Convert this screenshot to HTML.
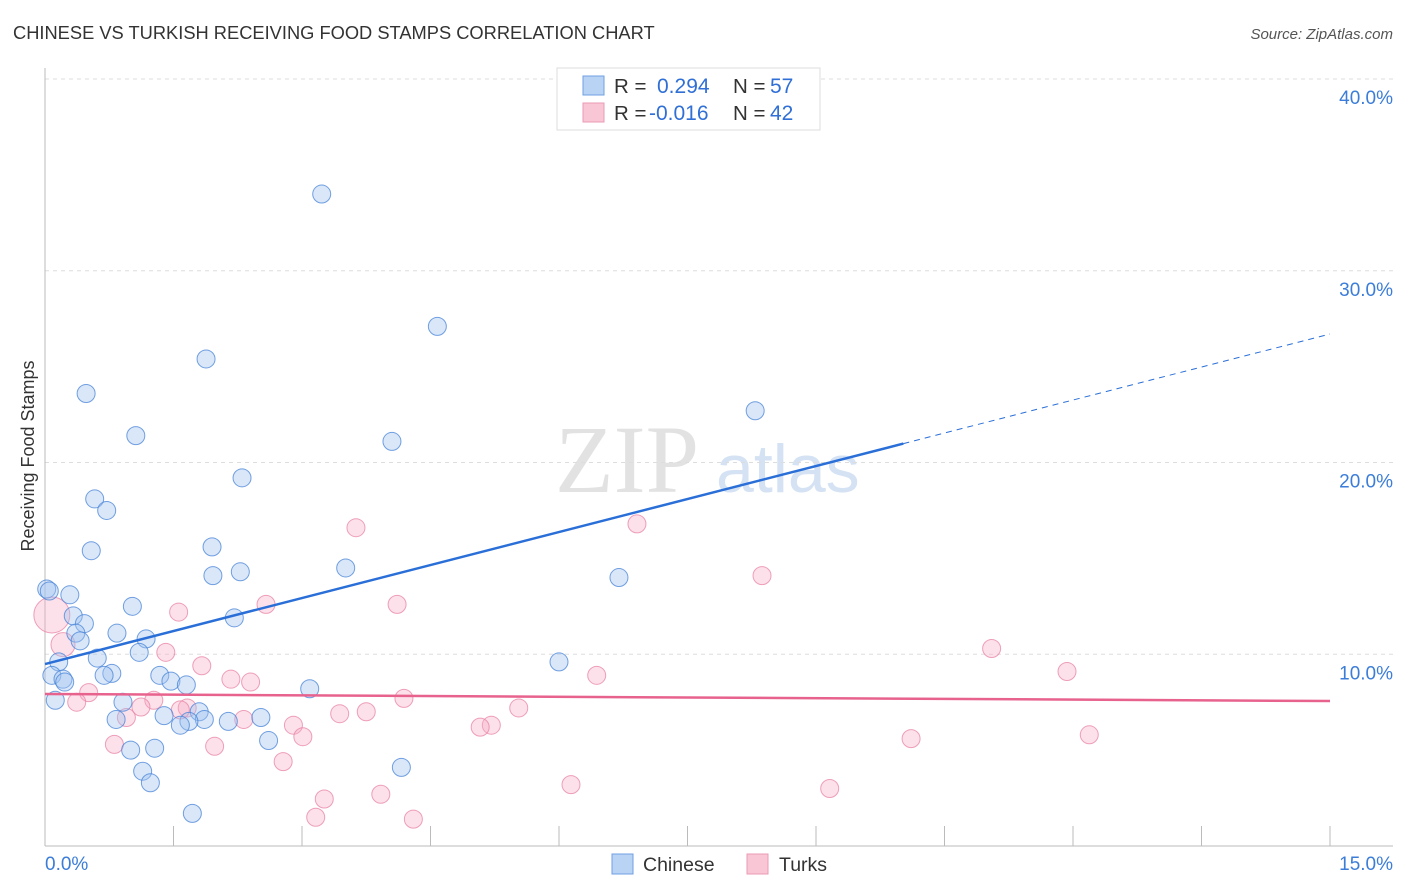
<!DOCTYPE html>
<html><head><meta charset="utf-8"><style>
body{margin:0;background:#fff;font-family:"Liberation Sans",sans-serif;}
svg{display:block}
</style></head><body>
<svg id="chart" width="1406" height="892">
<text x="13" y="39" font-size="18.3" fill="#333">CHINESE VS TURKISH RECEIVING FOOD STAMPS CORRELATION CHART</text>
<text x="1393" y="39" font-size="15" fill="#555" font-style="italic" text-anchor="end">Source: ZipAtlas.com</text>
<text x="555" y="492" font-size="96" fill="#e2e2e2" font-family="Liberation Serif,serif">ZIP</text>
<text x="716" y="492" font-size="68" fill="#d4e2f4">atlas</text>
<text transform="translate(34,456) rotate(-90)" font-size="18" fill="#333" text-anchor="middle">Receiving Food Stamps</text>
<g id="grid"></g><g id="pts"></g><g id="lines"></g>
<g>
<rect x="557" y="68" width="263" height="62" fill="#fff" stroke="#ddd"/>
<rect x="583" y="76" width="21" height="19" fill="#b9d3f5" stroke="#6f9fe0"/>
<rect x="583" y="103" width="21" height="19" fill="#f9c6d5" stroke="#eb9ab5"/>
<text x="614" y="93" font-size="20.5" fill="#333">R =</text><text x="657" y="93" font-size="21" fill="#2f6fd6">0.294</text>
<text x="733" y="93" font-size="20.5" fill="#333">N =</text><text x="770" y="93" font-size="21" fill="#2f6fd6">57</text>
<text x="614" y="120" font-size="20.5" fill="#333">R =</text><text x="649" y="120" font-size="21" fill="#2f6fd6">-0.016</text>
<text x="733" y="120" font-size="20.5" fill="#333">N =</text><text x="770" y="120" font-size="21" fill="#2f6fd6">42</text>
</g>
<g>
<rect x="612" y="854" width="21" height="20" fill="#b9d3f5" stroke="#6f9fe0"/>
<text x="643" y="871" font-size="19.5" fill="#333">Chinese</text>
<rect x="747" y="854" width="21" height="20" fill="#f9c6d5" stroke="#eb9ab5"/>
<text x="779" y="871" font-size="19.5" fill="#333">Turks</text>
</g>
</svg>
<script>
const chineseX=[3.23,4.58,1.88,0.48,8.29,1.06,4.05,2.30,0.58,0.72,0.54,1.95,3.51,2.28,1.96,6.70,0.02,0.29,1.02,0.33,2.21,0.46,0.36,0.84,1.18,0.41,1.10,0.61,6.0,0.16,0.78,0.69,0.08,0.21,0.23,1.34,1.47,1.65,3.09,0.12,0.91,1.80,1.39,2.52,0.83,1.86,2.14,1.68,1.58,2.61,1.28,1.0,4.16,1.14,1.23,1.72,0.05];
const chineseY=[34.0,27.1,25.4,23.6,22.7,21.4,21.1,19.2,18.1,17.5,15.4,15.6,14.5,14.3,14.1,14.0,13.4,13.1,12.5,12.0,11.9,11.6,11.1,11.1,10.8,10.7,10.1,9.8,9.6,9.6,9.0,8.9,8.9,8.7,8.55,8.9,8.6,8.4,8.2,7.6,7.5,7.0,6.8,6.7,6.6,6.6,6.5,6.5,6.3,5.5,5.1,5.0,4.1,3.9,3.3,1.7,13.3];
const turksX=[0.08,0.21,3.63,6.91,8.37,4.11,2.58,1.56,1.41,11.05,1.83,11.93,6.44,2.17,2.40,0.51,4.19,1.27,0.37,1.12,1.66,5.53,3.75,3.44,0.95,2.32,2.90,5.21,5.08,3.01,12.19,10.11,0.81,1.98,2.78,6.14,9.16,3.92,3.26,3.16,4.30,1.58];
const turksY=[12.05,10.5,16.6,16.8,14.1,12.6,12.6,12.2,10.1,10.3,9.4,9.1,8.9,8.7,8.55,8.0,7.7,7.6,7.5,7.25,7.2,7.2,7.0,6.9,6.7,6.6,6.3,6.3,6.2,5.7,5.8,5.6,5.3,5.2,4.4,3.2,3.0,2.7,2.45,1.5,1.4,7.1];
const turksR=[18,12];
const yTicks=[10,20,30,40];
const xTickLabels=["0.0%","15.0%"];
const blueTrend=[9.49,26.7];
const blueSolidEnd=10.02;
const pinkTrend=[7.93,7.56];
const X0=45,X1=1330,Y0=846,Y40=79;
const sx=v=>X0+(X1-X0)*v/15;
const sy=v=>Y0-(Y0-Y40)*v/40;
const NS="http://www.w3.org/2000/svg";
function mk(t,a,p){const e=document.createElementNS(NS,t);for(const k in a)e.setAttribute(k,a[k]);p.appendChild(e);return e;}
const grid=document.getElementById('grid');
yTicks.forEach(t=>{
 const l=mk('line',{x1:45,x2:1393,y1:sy(t),y2:sy(t),stroke:'#ddd','stroke-dasharray':'4,4'},grid);
 
 
 const tx=mk('text',{x:1393,y:sy(t)+25,'font-size':19,fill:'#3b7dd8','text-anchor':'end'},grid);
 tx.textContent=t.toFixed(1)+'%';
 
 
});
const ax=mk('line',{x1:45,x2:45,y1:68,y2:846,stroke:'#bbb'},grid);


const bx=mk('line',{x1:45,x2:1393,y1:846,y2:846,stroke:'#bbb'},grid);


for(let i=1;i<=10;i++){const v=i*1.5;const t=mk('line',{x1:sx(v),x2:sx(v),y1:826,y2:846,stroke:'#bbb'},grid);
 
 }
[[0,'start',45],[15,'end',1393]].forEach((d,i)=>{const t=mk('text',{x:d[2],y:870,'font-size':19,fill:'#3b7dd8','text-anchor':d[1]},grid);t.textContent=xTickLabels[i];
 
 });
const pts=document.getElementById('pts');
turksX.forEach((x,i)=>{const c=mk('circle',{cx:sx(x),cy:sy(turksY[i]),r:turksR[i]||9,fill:'rgba(246,170,195,0.35)',stroke:'rgba(232,130,165,0.75)','stroke-width':1},pts);
 
 });
chineseX.forEach((x,i)=>{const c=mk('circle',{cx:sx(x),cy:sy(chineseY[i]),r:9,fill:'rgba(160,195,240,0.4)',stroke:'rgba(70,130,215,0.75)','stroke-width':1},pts);
 
 });
const lines=document.getElementById('lines');
const by=x=>blueTrend[0]+(blueTrend[1]-blueTrend[0])*x/15;
const l1=mk('line',{x1:sx(0),y1:sy(by(0)),x2:sx(blueSolidEnd),y2:sy(by(blueSolidEnd)),stroke:'#2a6fd8','stroke-width':2.5},lines);


const l2=mk('line',{x1:sx(blueSolidEnd),y1:sy(by(blueSolidEnd)),x2:sx(15),y2:sy(by(15)),stroke:'#2a6fd8','stroke-width':1,'stroke-dasharray':'6,5'},lines);


const l3=mk('line',{x1:sx(0),y1:sy(pinkTrend[0]),x2:sx(15),y2:sy(pinkTrend[1]),stroke:'#e8628e','stroke-width':2.5},lines);


</script>
</body></html>
